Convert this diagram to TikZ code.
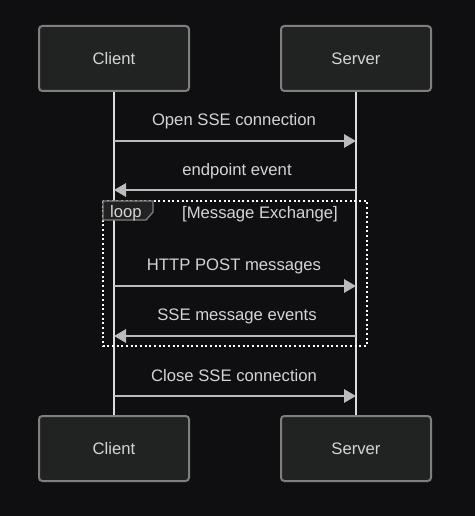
\documentclass[tikz,border=0pt]{standalone}
\usepackage{fontspec}
\setmainfont{Liberation Sans}
\usetikzlibrary{arrows.meta}
\definecolor{bg}{HTML}{0F0F11}
\definecolor{boxfill}{HTML}{212322}
\definecolor{boxline}{HTML}{7F7F7F}
\definecolor{txt}{HTML}{D4D4D4}
\definecolor{msgline}{HTML}{BBBBBB}
\definecolor{life}{HTML}{DDDDDD}
\tikzset{
  actor/.style={draw=boxline, fill=boxfill, line width=1.5pt, rounded corners=2.5pt,
    minimum width=112.5pt, minimum height=48.75pt, text=txt, font=\fontsize{12.5}{15}\selectfont},
  msg/.style={draw=msgline, line width=1.5pt, -{Triangle[length=9pt,width=10pt]}},
  lbl/.style={text=txt, font=\fontsize{12.5}{15}\selectfont},
}

\begin{document}
\begin{tikzpicture}[x=0.75pt,y=-0.75pt]
  \fill[bg] (0,0) rectangle (475,516);
  \useasboundingbox (0,0) rectangle (475,516);

  % participants
  \node[actor] (clientTop) at (114,58.5) {Client};
  \node[actor] (serverTop) at (356,58.5) {Server};
  \node[actor] (clientBot) at (114,448.5) {Client};
  \node[actor] (serverBot) at (356,448.5) {Server};

  % lifelines
  \draw[life, line width=1.5pt] (clientTop) -- (clientBot);
  \draw[life, line width=1.5pt] (serverTop) -- (serverBot);

  % loop frame
  \draw[white, line width=1.5pt, dotted] (103,201) rectangle (367,346);
  \draw[boxline, fill=boxfill, line width=1pt]
    (103,201) -- (153,201) -- (153,212) -- (146,220) -- (103,220) -- cycle;
  \node[lbl] (loopTag) at (126,213) {loop};
  \node[lbl] (loopCond) at (260,214) {[Message Exchange]};

  % messages
  \coordinate (c1) at (114,141); \coordinate (s1) at (356,141);
  \coordinate (c2) at (114,190); \coordinate (s2) at (356,190);
  \coordinate (c3) at (114,286); \coordinate (s3) at (356,286);
  \coordinate (c4) at (114,336); \coordinate (s4) at (356,336);
  \coordinate (c5) at (114,396); \coordinate (s5) at (356,396);

  \node[lbl] (m1) at (234,121) {Open SSE connection};
  \node[lbl] (m2) at (237,171) {endpoint event};
  \node[lbl] (m3) at (234,266) {HTTP POST messages};
  \node[lbl] (m4) at (237,316) {SSE message events};
  \node[lbl] (m5) at (234,376) {Close SSE connection};

  \draw[msg] (c1) -- (s1);
  \draw[msg] (s2) -- (c2);
  \draw[msg] (c3) -- (s3);
  \draw[msg] (s4) -- (c4);
  \draw[msg] (c5) -- (s5);
\end{tikzpicture}
\end{document}
